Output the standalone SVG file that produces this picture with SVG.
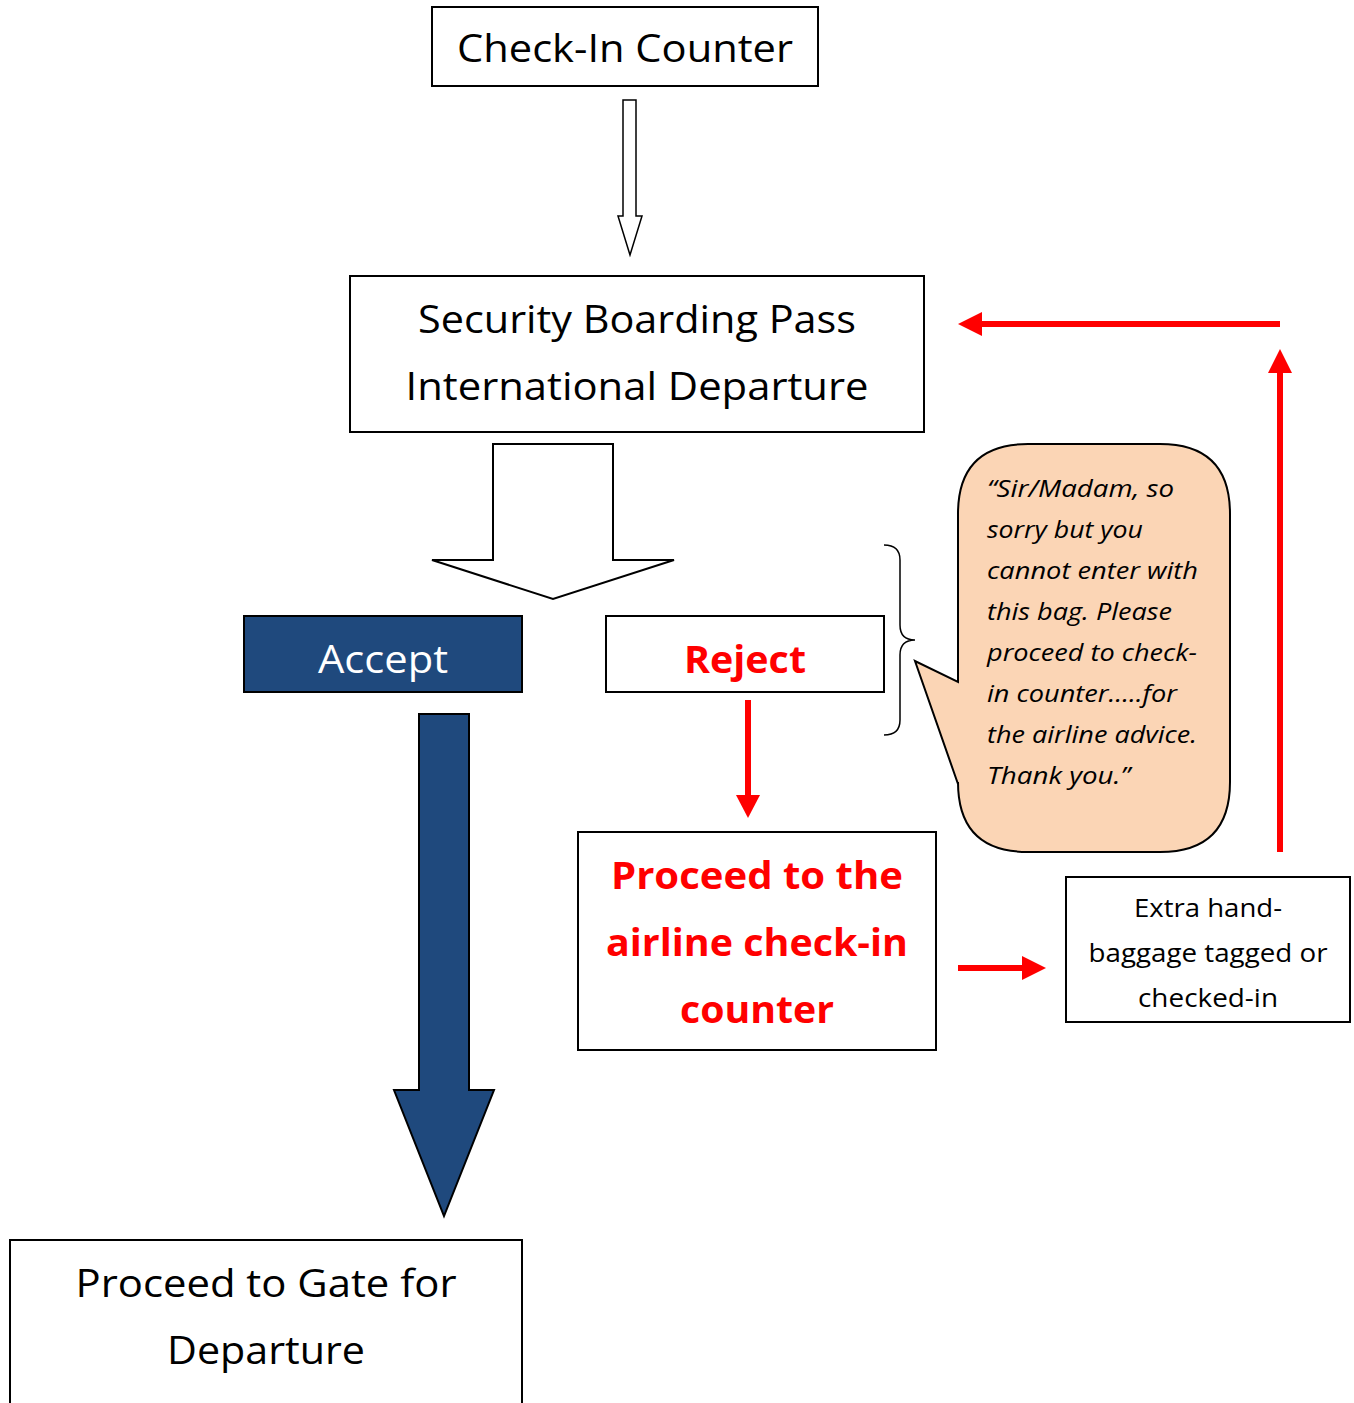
<svg xmlns="http://www.w3.org/2000/svg" width="1354" height="1403" viewBox="0 0 1354 1403">
<defs>
<style>
.box{fill:#fff;stroke:#000;stroke-width:2}
.t{font-family:"Open Sans","Noto Sans","DejaVu Sans",sans-serif;font-size:38px;fill:#000;text-anchor:middle}
.rb{font-weight:bold;fill:#ff0000}
.sm{font-size:25px}
.it{font-family:"Open Sans","Noto Sans","DejaVu Sans",sans-serif;font-size:24px;font-style:italic;fill:#000}
.red{stroke:#ff0000;stroke-width:6;fill:none}
.redh{fill:#ff0000;stroke:none}
</style>
</defs>
<rect width="1354" height="1403" fill="#fff"/>
<g id="checkin">
<rect class="box" x="432" y="7" width="386" height="79"/>
<text class="t" x="625" y="62" textLength="336" lengthAdjust="spacingAndGlyphs">Check-In Counter</text>
</g>
<g id="security">
<rect class="box" x="350" y="276" width="574" height="156"/>
<text class="t" x="637" y="333" textLength="438" lengthAdjust="spacingAndGlyphs">Security Boarding Pass</text>
<text class="t" x="637" y="400" textLength="463" lengthAdjust="spacingAndGlyphs">International Departure</text>
</g>
<g id="accept">
<rect x="244" y="616" width="278" height="76" fill="#1f497d" stroke="#000" stroke-width="2"/>
<text class="t" x="383" y="673" style="fill:#fff" textLength="130" lengthAdjust="spacingAndGlyphs">Accept</text>
</g>
<g id="reject">
<rect class="box" x="606" y="616" width="278" height="76"/>
<text class="t rb" x="745" y="673" textLength="122" lengthAdjust="spacingAndGlyphs">Reject</text>
</g>
<g id="proceed-airline">
<rect class="box" x="578" y="832" width="358" height="218"/>
<text class="t rb" x="757" y="889" textLength="292" lengthAdjust="spacingAndGlyphs">Proceed to the</text>
<text class="t rb" x="757" y="956" textLength="302" lengthAdjust="spacingAndGlyphs">airline check-in</text>
<text class="t rb" x="757" y="1023" textLength="154" lengthAdjust="spacingAndGlyphs">counter</text>
</g>
<g id="extra">
<rect class="box" x="1066" y="877" width="284" height="145"/>
<text class="t sm" x="1208" y="917" textLength="148" lengthAdjust="spacingAndGlyphs">Extra hand-</text>
<text class="t sm" x="1208" y="962" textLength="239" lengthAdjust="spacingAndGlyphs">baggage tagged or</text>
<text class="t sm" x="1208" y="1007" textLength="140" lengthAdjust="spacingAndGlyphs">checked-in</text>
</g>
<g id="gate">
<rect class="box" x="10" y="1240" width="512" height="175"/>
<text class="t" x="266" y="1297" textLength="381" lengthAdjust="spacingAndGlyphs">Proceed to Gate for</text>
<text class="t" x="266" y="1364" textLength="198" lengthAdjust="spacingAndGlyphs">Departure</text>
</g>
<g id="callout">
<path d="M884,545 Q900,545 900,560 L900,625 Q900,640 915,640 Q900,640 900,655 L900,720 Q900,735 884,735" fill="none" stroke="#000" stroke-width="1.5"/>
<path d="M1028,444 L1160,444 Q1230,444 1230,514 L1230,782 Q1230,852 1160,852 L1028,852 Q958,852 958,782 L958,784 L915,661 L958,682 L958,514 Q958,444 1028,444 Z" fill="#fbd5b5" stroke="#000" stroke-width="2"/>
<text class="it" x="987" y="497" textLength="187" lengthAdjust="spacingAndGlyphs">“Sir/Madam, so</text>
<text class="it" x="987" y="538" textLength="156" lengthAdjust="spacingAndGlyphs">sorry but you</text>
<text class="it" x="987" y="579" textLength="211" lengthAdjust="spacingAndGlyphs">cannot enter with</text>
<text class="it" x="987" y="620" textLength="185" lengthAdjust="spacingAndGlyphs">this bag. Please</text>
<text class="it" x="987" y="661" textLength="210" lengthAdjust="spacingAndGlyphs">proceed to check-</text>
<text class="it" x="987" y="702" textLength="190" lengthAdjust="spacingAndGlyphs">in counter…..for</text>
<text class="it" x="987" y="743" textLength="210" lengthAdjust="spacingAndGlyphs">the airline advice.</text>
<text class="it" x="987" y="784" textLength="143" lengthAdjust="spacingAndGlyphs">Thank you.”</text>
</g>
<g id="connectors">
<path d="M623,100 L636,100 L636,216 L642,216 L630,255 L618,216 L623,216 Z" fill="#fff" stroke="#000" stroke-width="1.5"/>
<path d="M493,444 L613,444 L613,560 L674,560 L553,599 L432,560 L493,560 Z" fill="#fff" stroke="#000" stroke-width="2"/>
<path d="M419,714 L469,714 L469,1090 L494,1090 L444,1216 L394,1090 L419,1090 Z" fill="#1f497d" stroke="#000" stroke-width="2"/>
<line class="red" x1="748" y1="700" x2="748" y2="797"/>
<path class="redh" d="M736,795 L760,795 L748,818 Z"/>
<line class="red" x1="958" y1="968" x2="1024" y2="968"/>
<path class="redh" d="M1022,956 L1046,968 L1022,980 Z"/>
<line class="red" x1="1280" y1="852" x2="1280" y2="370"/>
<path class="redh" d="M1268,373 L1280,349 L1292,373 Z"/>
<line class="red" x1="1280" y1="324" x2="980" y2="324"/>
<path class="redh" d="M982,312 L958,324 L982,336 Z"/>
</g>
</svg>
